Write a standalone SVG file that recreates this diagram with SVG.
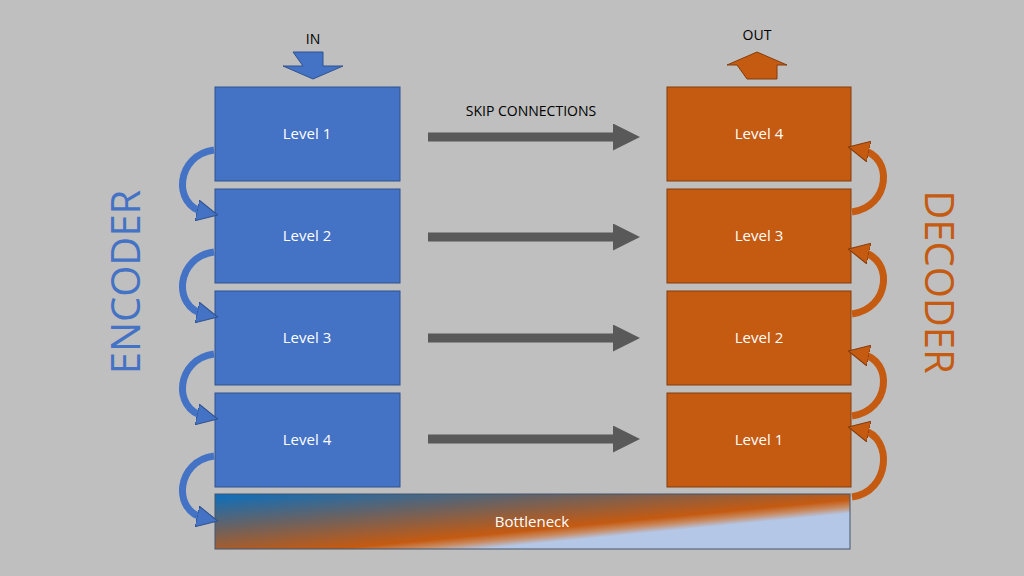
<svg xmlns="http://www.w3.org/2000/svg" width="1024" height="576" viewBox="0 0 1024 576">
<style>
text{font-family:"Open Sans","Liberation Sans",sans-serif}
.enc{fill:#4472c4;stroke:#2f528f;stroke-width:1}
.dec{fill:#c55a11;stroke:#843c0c;stroke-width:1}
.lbl{fill:#fff;font-size:15px;text-anchor:middle}
.skip{stroke:#595959;stroke-width:9;fill:none;marker-end:url(#sh)}
.ca{fill:none;stroke-width:7}
</style>
<defs>
<marker id="sh" markerWidth="3" markerHeight="3" refX="1" refY="1.5" orient="auto"><path d="M0,0L3,1.5L0,3z" fill="#595959"/></marker>
<marker id="bh" markerWidth="3" markerHeight="3" refX="1" refY="1.5" orient="auto"><path d="M0,0L3,1.5L0,3z" fill="#4472c4" stroke="#2f528f" stroke-width="0.15"/></marker>
<marker id="oh" markerWidth="3" markerHeight="3" refX="1" refY="1.5" orient="auto"><path d="M0,0L3,1.5L0,3z" fill="#c55a11" stroke="#843c0c" stroke-width="0.15"/></marker>
<linearGradient id="bg" gradientUnits="userSpaceOnUse" x1="215" y1="494" x2="226" y2="608">
<stop offset="0" stop-color="#0a6fc0"/><stop offset="0.3" stop-color="#6a6262"/><stop offset="0.58" stop-color="#c55a11"/><stop offset="0.64" stop-color="#c98a60"/><stop offset="0.7" stop-color="#b4c7e7"/><stop offset="1" stop-color="#b4c7e7"/>
</linearGradient>
</defs>
<rect width="1024" height="576" fill="#bfbfbf"/>
<text x="140" y="282" font-size="40" fill="#4472c4" text-anchor="middle" transform="rotate(-90 140 282)">ENCODER</text>
<text x="925" y="282" font-size="40" fill="#c55a11" text-anchor="middle" transform="rotate(90 925 282)">DECODER</text>
<g id="in"><path d="M293,52h30v14h20l-30,13l-30,-13h20z" fill="#4472c4" stroke="#2f528f"/><text x="313" y="44" font-size="14" text-anchor="middle" fill="#000">IN</text></g>
<g id="out"><path d="M747,79h30v-14h10l-30,-13l-30,13h10z" fill="#c55a11" stroke="#843c0c"/><text x="757" y="40" font-size="14" text-anchor="middle" fill="#000">OUT</text></g>
<g id="e1"><rect class="enc" x="215" y="87" width="185" height="94"/><text class="lbl" x="307" y="139">Level 1</text></g>
<g id="e2"><rect class="enc" x="215" y="189" width="185" height="94"/><text class="lbl" x="307" y="241">Level 2</text></g>
<g id="e3"><rect class="enc" x="215" y="291" width="185" height="94"/><text class="lbl" x="307" y="343">Level 3</text></g>
<g id="e4"><rect class="enc" x="215" y="393" width="185" height="94"/><text class="lbl" x="307" y="445">Level 4</text></g>
<g id="d4"><rect class="dec" x="667" y="87" width="184" height="94"/><text class="lbl" x="759" y="139">Level 4</text></g>
<g id="d3"><rect class="dec" x="667" y="189" width="184" height="94"/><text class="lbl" x="759" y="241">Level 3</text></g>
<g id="d2"><rect class="dec" x="667" y="291" width="184" height="94"/><text class="lbl" x="759" y="343">Level 2</text></g>
<g id="d1"><rect class="dec" x="667" y="393" width="184" height="94"/><text class="lbl" x="759" y="445">Level 1</text></g>
<g id="bn"><rect x="215" y="494" width="635" height="55" fill="url(#bg)" stroke="#44546a"/><text class="lbl" x="532" y="527">Bottleneck</text></g>
<text x="531" y="116" font-size="14" text-anchor="middle" fill="#000">SKIP CONNECTIONS</text>
<g id="connectors">
<path class="skip" d="M428,137H622"/><path class="skip" d="M428,237H622"/><path class="skip" d="M428,338H622"/><path class="skip" d="M428,439H622"/>
<g stroke="#4472c4" marker-end="url(#bh)">
<path class="ca" d="M214,150C176,155 172,205 204,212"/>
<path class="ca" d="M214,252C176,257 172,307 204,314"/>
<path class="ca" d="M214,354C176,359 172,409 204,416"/>
<path class="ca" d="M214,456C176,461 172,511 204,518"/>
</g>
<g stroke="#c55a11" marker-end="url(#oh)">
<path class="ca" d="M852,212C890,207 894,157 862,150"/>
<path class="ca" d="M852,314C890,309 894,259 862,252"/>
<path class="ca" d="M852,416C890,411 894,361 862,354"/>
<path class="ca" d="M852,497C890,492 894,437 862,430"/>
</g>
</g>
</svg>
